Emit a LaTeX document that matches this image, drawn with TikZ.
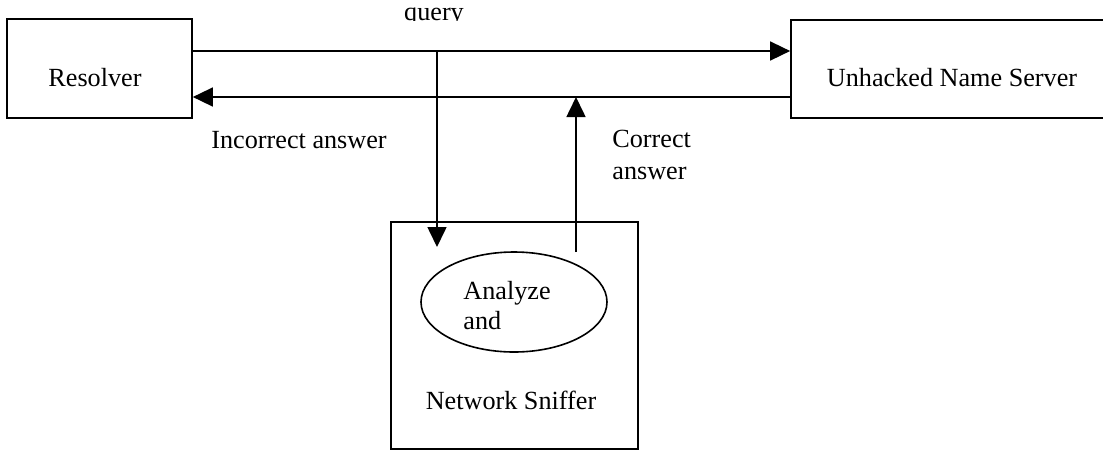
\documentclass[tikz,border=0pt]{standalone}
\usepackage{fontspec}
\setmainfont{Liberation Serif}
\usetikzlibrary{arrows.meta,shapes.geometric}
\tikzset{
  boxnode/.style={draw, line width=0.85pt, rectangle, inner sep=0pt},
  txt/.style={inner sep=0pt, font=\fontsize{13.1pt}{15.7pt}\selectfont},
  arr/.style={line width=0.8pt, -{Triangle[length=10pt,width=9.5pt]}},
  plain/.style={line width=0.8pt}
}
\begin{document}
\begin{tikzpicture}[x=0.5pt,y=-0.5pt]
\useasboundingbox (0,0) rectangle (1103,451);
% boxes
\node[boxnode, minimum width=92.5pt, minimum height=49.5pt] (res) at (99.5,68.5) {};
\node[boxnode, minimum width=159.5pt, minimum height=49pt] (uns) at (950.5,69) {};
\node[boxnode, minimum width=123.5pt, minimum height=113.5pt] (sniff) at (514.5,335.5) {};
\node[draw, ellipse, line width=0.8pt, minimum width=93pt, minimum height=50pt, inner sep=0pt] (ell) at (514,302) {};
% texts
\node[txt, anchor=base] (tres) at (95,86) {Resolver};
\node[txt, anchor=base] (tuns) at (952,86) {Unhacked Name Server};
\node[txt, anchor=base west] (tinc) at (211,148) {Incorrect answer};
\node[txt, anchor=base west] (tcor1) at (612,147) {Correct};
\node[txt, anchor=base west] (tcor2) at (612,179) {answer};
\node[txt, anchor=base west] (tana1) at (463,299) {Analyze};
\node[txt, anchor=base west] (tana2) at (463,329) {and};
\node[txt, anchor=base] (tnet) at (511,409) {Network Sniffer};
\begin{scope}
\clip (0,0) rectangle (1103,20.5);
\node[txt, anchor=base] (tq) at (434,20) {query};
\end{scope}
% coordinates
\coordinate (ytop) at (0,51);
\coordinate (ybot) at (0,97);
\coordinate (qsplit) at (437,51);
\coordinate (qend) at (437,247);
\coordinate (cstart) at (576,252);
\coordinate (cend) at (576,97);
% connectors
\draw[arr] (res.east |- ytop) -- (uns.west |- ytop);
\draw[arr] (uns.west |- ybot) -- (res.east |- ybot);
\draw[arr] (qsplit) -- (qend);
\draw[arr] (cstart) -- (cend);
\end{tikzpicture}
\end{document}
